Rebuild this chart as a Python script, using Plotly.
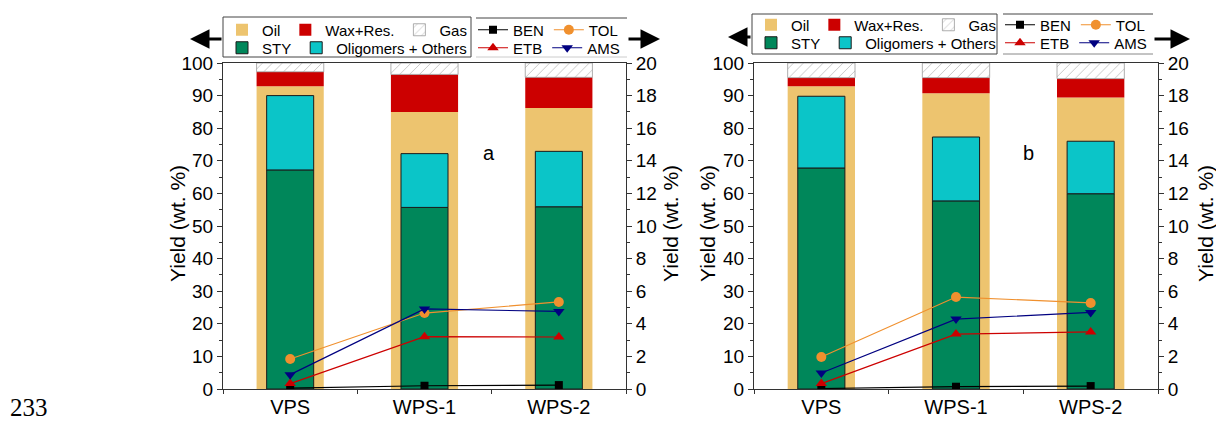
import plotly.graph_objects as go

W, H = 1216, 422

categories = ["VPS", "WPS-1", "WPS-2"]

# Panel a (wt. %)
oil_a = [92.9, 85.0, 86.2]
wax_a = [4.4, 11.5, 9.4]
gas_a = [2.7, 3.5, 4.4]
sty_a = [67.2, 55.7, 55.9]
olig_a = [22.8, 16.5, 17.0]
ben_a = [0.05, 0.20, 0.24]
tol_a = [1.84, 4.66, 5.34]
etb_a = [0.33, 3.21, 3.19]
ams_a = [0.88, 4.91, 4.76]

# Panel b (wt. %)
oil_b = [92.9, 90.7, 89.4]
wax_b = [2.6, 4.8, 5.8]
gas_b = [4.5, 4.5, 4.8]
sty_b = [67.8, 57.7, 59.9]
olig_b = [22.0, 19.6, 16.1]
ben_b = [0.03, 0.14, 0.18]
tol_b = [1.96, 5.64, 5.28]
etb_b = [0.33, 3.37, 3.50]
ams_b = [0.98, 4.29, 4.70]

C_OIL = "#EDC46F"
C_WAX = "#CC0000"
C_STY = "#00875A"
C_OLIG = "#0BC5C8"
C_BEN = "#000000"
C_TOL = "#F0902E"
C_ETB = "#CC0000"
C_AMS = "#000080"

FONT = "Arial, Liberation Sans, sans-serif"


def px(x):
    return x / W


def py(y):
    return 1 - y / H


fig = go.Figure()


def add_panel(xa, ya, ya2, oil, wax, gas, sty, olig, ben, tol, etb, ams, legs):
    base_wax = oil
    base_gas = [o + w for o, w in zip(oil, wax)]
    base_olig = sty
    fig.add_trace(go.Bar(x=categories, y=oil, width=0.5, name="Oil",
                         marker=dict(color=C_OIL, line=dict(width=0)),
                         xaxis=xa, yaxis=ya, legend=legs[0]))
    fig.add_trace(go.Bar(x=categories, y=wax, base=base_wax, width=0.5, name="Wax+Res.",
                         marker=dict(color=C_WAX, line=dict(width=0)),
                         xaxis=xa, yaxis=ya, legend=legs[0]))
    fig.add_trace(go.Bar(x=categories, y=gas, base=base_gas, width=0.5, name="Gas",
                         marker=dict(color="white", line=dict(width=0.8, color="#999999"),
                                     pattern=dict(shape="/", fgcolor="#8f8f8f", bgcolor="white",
                                                  size=7, solidity=0.14)),
                         xaxis=xa, yaxis=ya, legend=legs[0]))
    fig.add_trace(go.Bar(x=categories, y=sty, width=0.35, name="STY",
                         marker=dict(color=C_STY, line=dict(width=1, color="#1a1a1a")),
                         xaxis=xa, yaxis=ya, legend=legs[1]))
    fig.add_trace(go.Bar(x=categories, y=olig, base=base_olig, width=0.35,
                         name="Oligomers + Others",
                         marker=dict(color=C_OLIG, line=dict(width=1, color="#1a1a1a")),
                         xaxis=xa, yaxis=ya, legend=legs[1]))
    fig.add_trace(go.Scatter(x=categories, y=ben, mode="lines+markers", name="BEN",
                             line=dict(color=C_BEN, width=1.2),
                             marker=dict(symbol="square", size=8, color=C_BEN),
                             xaxis=xa, yaxis=ya2, legend=legs[2]))
    fig.add_trace(go.Scatter(x=categories, y=tol, mode="lines+markers", name="TOL",
                             line=dict(color=C_TOL, width=1.2),
                             marker=dict(symbol="circle", size=10, color=C_TOL),
                             xaxis=xa, yaxis=ya2, legend=legs[2]))
    fig.add_trace(go.Scatter(x=categories, y=etb, mode="lines+markers", name="ETB",
                             line=dict(color=C_ETB, width=1.2),
                             marker=dict(symbol="triangle-up", size=10, color=C_ETB),
                             xaxis=xa, yaxis=ya2, legend=legs[3]))
    fig.add_trace(go.Scatter(x=categories, y=ams, mode="lines+markers", name="AMS",
                             line=dict(color=C_AMS, width=1.2),
                             marker=dict(symbol="triangle-down", size=10, color=C_AMS),
                             xaxis=xa, yaxis=ya2, legend=legs[3]))


add_panel("x", "y", "y2", oil_a, wax_a, gas_a, sty_a, olig_a, ben_a, tol_a, etb_a, ams_a,
          ["legend", "legend2", "legend3", "legend4"])
add_panel("x2", "y3", "y4", oil_b, wax_b, gas_b, sty_b, olig_b, ben_b, tol_b, etb_b, ams_b,
          ["legend5", "legend6", "legend7", "legend8"])

ydom = [py(389), py(63)]
AX = "#333333"


def xaxis_cfg(dom, anchor):
    return dict(domain=dom, anchor=anchor, range=[-0.5, 2.5], type="category",
                showline=True, linecolor=AX, linewidth=1, mirror=True,
                ticks="outside", tickson="boundaries", ticklen=4, tickcolor=AX,
                tickfont=dict(family=FONT, size=20, color="black"),
                showgrid=False, zeroline=False, fixedrange=True)


def yleft_cfg(anchor):
    return dict(domain=ydom, anchor=anchor, range=[0, 100], side="left",
                showline=True, linecolor=AX, linewidth=1,
                ticks="outside", ticklen=5, tickcolor=AX, dtick=10, tick0=0,
                minor=dict(ticks="outside", ticklen=3, dtick=5, tickcolor=AX),
                tickfont=dict(family=FONT, size=19, color="black"),
                showgrid=False, zeroline=False)


def yright_cfg(anchor, over):
    return dict(range=[0, 20], side="right", overlaying=over, anchor=anchor,
                showline=True, linecolor=AX, linewidth=1,
                ticks="outside", ticklen=5, tickcolor=AX, dtick=2, tick0=0,
                minor=dict(ticks="outside", ticklen=3, dtick=1, tickcolor=AX),
                tickfont=dict(family=FONT, size=19, color="black"),
                showgrid=False, zeroline=False)


def leg(xpix, ypix):
    return dict(orientation="h", x=px(xpix), y=py(ypix), xanchor="left", yanchor="middle",
                font=dict(family=FONT, size=15, color="black"),
                bgcolor="rgba(0,0,0,0)", borderwidth=0, itemwidth=30,
                tracegroupgap=0, itemclick=False, itemdoubleclick=False)


layout = dict(
    width=W, height=H,
    margin=dict(l=0, r=0, t=0, b=0, autoexpand=False),
    paper_bgcolor="white", plot_bgcolor="white",
    barmode="overlay",
    showlegend=True,
    xaxis=xaxis_cfg([px(223), px(626)], "y"),
    yaxis=yleft_cfg("x"),
    yaxis2=yright_cfg("x", "y"),
    xaxis2=xaxis_cfg([px(754), px(1158)], "y3"),
    yaxis3=yleft_cfg("x2"),
    yaxis4=yright_cfg("x2", "y3"),
    legend=leg(222, 30),
    legend2=leg(222, 48),
    legend3=leg(473, 30),
    legend4=leg(473, 48),
    legend5=leg(751, 25),
    legend6=leg(751, 43),
    legend7=leg(1000, 25),
    legend8=leg(1000, 43),
)
fig.update_layout(**layout)

# legend frames
shapes = []
def prect(x0, y0, x1, y1, color="#444444"):
    shapes.append(dict(type="rect", xref="paper", yref="paper", x0=px(x0), x1=px(x1),
                       y0=py(y1), y1=py(y0), line=dict(color=color, width=1)))

def pline(x0, y0, x1, y1, color="#444444"):
    shapes.append(dict(type="line", xref="paper", yref="paper", x0=px(x0), x1=px(x1),
                       y0=py(y0), y1=py(y1), line=dict(color=color, width=1)))

prect(223, 17, 471, 57)
pline(476, 18, 627, 18)
pline(476, 57, 627, 57, "#cccccc")
prect(752, 14, 997, 54)
pline(1003, 14, 1153, 14)
pline(1003, 54, 1153, 54, "#888888")
fig.update_layout(shapes=shapes)

ann = []
title = "Yield (wt. %)"
for xc in (177, 670, 707, 1205):
    ann.append(dict(text=title, xref="paper", yref="paper", x=px(xc), y=py(224),
                    textangle=-90, showarrow=False, xanchor="center", yanchor="middle",
                    font=dict(family=FONT, size=21, color="black")))
ann.append(dict(text="a", xref="x", yref="y", x=1.48, y=72.4, showarrow=False,
                font=dict(family=FONT, size=20, color="black")))
ann.append(dict(text="b", xref="x2", yref="y3", x=1.54, y=72.4, showarrow=False,
                font=dict(family=FONT, size=20, color="black")))
ann.append(dict(text="233", xref="paper", yref="paper", x=px(9), y=0,
                xanchor="left", yanchor="bottom", showarrow=False, borderpad=0,
                font=dict(family="Liberation Serif, Times New Roman, serif", size=25, color="black")))

# axis arrows (left axis <- , right axis ->)
for tip, tail, yy in ((190, 223, 39), (660, 627, 39), (728, 752, 37), (1190, 1153, 39)):
    ann.append(dict(text="", xref="paper", yref="paper", x=px(tip), y=py(yy),
                    ax=tail - tip, ay=0, axref="pixel", ayref="pixel",
                    showarrow=True, arrowhead=2, arrowsize=1.3, arrowwidth=3,
                    arrowcolor="black"))
fig.update_layout(annotations=ann)

fig.write_html("out.html")
